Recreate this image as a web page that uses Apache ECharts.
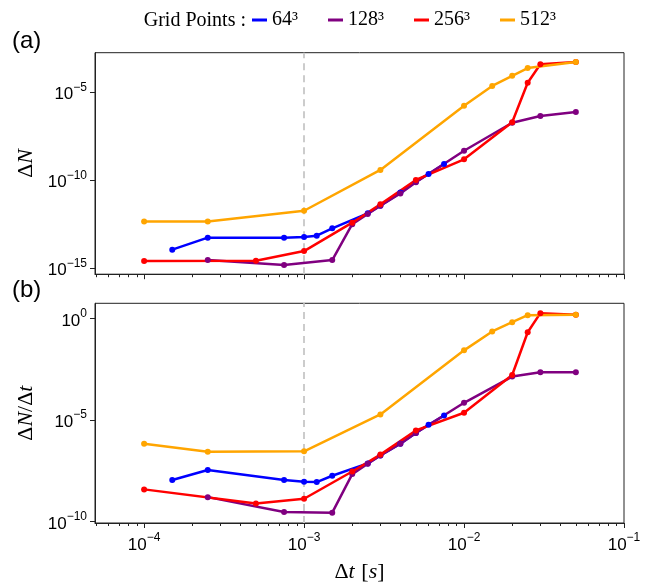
<!DOCTYPE html>
<html><head><meta charset="utf-8">
<script src="https://cdn.jsdelivr.net/npm/echarts@6/dist/echarts.min.js"></script>
<style>html,body{margin:0;padding:0;background:#fff}#c{width:658px;height:584px}</style>
</head><body><div id="c"></div>
<script>
// ---- data ----
const seriesNames = ['64³', '128³', '256³', '512³'];
const colors = ['#0000ff', '#800080', '#ff0000', '#ffa500'];

const dt64 = [1.5e-4, 2.5e-4, 7.5e-4, 1e-3, 1.2e-3, 1.5e-3, 2.5e-3, 3e-3, 4e-3, 5e-3, 6e-3, 7.5e-3];
const dN64 = [1.15e-14, 5.5e-14, 5.5e-14, 6.0e-14, 7.1e-14, 1.86e-13, 1.33e-12, 3.6e-12, 2.0e-11, 8.3e-11, 2.3e-10, 8.5e-10];
const rate64 = [1.12e-8, 3.5e-8, 1.12e-8, 9.3e-9, 8.9e-9, 1.82e-8, 7.4e-8, 1.82e-7, 6.9e-7, 2.3e-6, 5.9e-6, 1.66e-5];

const dt128 = [2.5e-4, 7.5e-4, 1.5e-3, 2e-3, 2.5e-3, 3e-3, 4e-3, 5e-3, 1e-2, 2e-2, 3e-2, 5e-2];
const dN128 = [2.95e-15, 1.55e-15, 2.95e-15, 3.2e-13, 1.23e-12, 3.6e-12, 1.8e-11, 7.8e-11, 4.8e-9, 1.86e-7, 4.5e-7, 7.6e-7];
const rate128 = [1.62e-9, 3.0e-10, 2.8e-10, 2.2e-8, 7.2e-8, 1.82e-7, 6.9e-7, 2.3e-6, 7.1e-5, 1.38e-3, 2.24e-3, 2.24e-3];

const dt256 = [1e-4, 5e-4, 1e-3, 2e-3, 3e-3, 5e-3, 1e-2, 2e-2, 2.5e-2, 3e-2, 5e-2];
const dN256 = [2.6e-15, 2.7e-15, 9.5e-15, 3.9e-13, 4.4e-12, 1.05e-10, 1.55e-9, 2.0e-7, 3.5e-5, 3.9e-4, 5.2e-4];
const rate256 = [3.9e-9, 7.8e-10, 1.35e-9, 2.95e-8, 2.0e-7, 3.1e-6, 2.3e-5, 1.66e-3, 0.21, 1.82, 1.51];

const dt512 = [1e-4, 2.5e-4, 1e-3, 3e-3, 1e-2, 1.5e-2, 2e-2, 2.5e-2, 5e-2];
const dN512 = [4.5e-13, 4.5e-13, 1.86e-12, 3.9e-10, 1.74e-6, 2.3e-5, 8.7e-5, 2.4e-4, 5.2e-4];
const rate512 = [6.9e-7, 2.75e-7, 2.9e-7, 1.9e-5, 0.027, 0.23, 0.66, 1.45, 1.51];

const xDecades = [1e-4, 1e-3, 1e-2, 1e-1];
const yTicksTop = [1e-15, 1e-10, 1e-5];
const yTicksBottom = [1e-10, 1e-5, 1e0];
const refLineDt = 1e-3;

// ---- build ----
const L = Math.log10;
const xMin = -4.307, xMax = -1;
const minorX = [];
for (let e = -5; e <= -2; e++) for (let k = 2; k <= 9; k++) {
  const v = L(k) + e;
  if (v > xMin && v < xMax) minorX.push(v);
}
const sans = 'Liberation Sans';
const serif = 'Liberation Serif';
const rich = {
  b: { fontSize: 17, fontFamily: sans, color: '#000', lineHeight: 22, verticalAlign: 'bottom' },
  s: { fontSize: 12, fontFamily: sans, color: '#000', lineHeight: 12, verticalAlign: 'top' }
};
function powLabel(v) {
  const e = Math.round(v);
  return '{b|10}{s|' + (e < 0 ? '\u2212' + (-e) : e) + '}';
}
const nameRich = {
  u: { fontFamily: serif, fontSize: 22, color: '#000' },
  i: { fontFamily: serif, fontSize: 22, fontStyle: 'italic', color: '#000' }
};

function majorX(gi, showLabels, name) {
  return {
    type: 'value', gridIndex: gi, min: xMin, max: xMax,
    axisLine: { show: true, onZero: false, lineStyle: { color: '#222', width: 1 } },
    axisTick: { show: true, length: 5, customValues: xDecades.map(L), lineStyle: { color: '#222' } },
    axisLabel: { show: showLabels, customValues: xDecades.map(L), formatter: powLabel, rich: rich, margin: 9 },
    splitLine: { show: false },
    name: name || '', nameLocation: 'middle', nameGap: 38,
    nameTextStyle: { rich: nameRich }
  };
}
function minorXAxis(gi) {
  return {
    type: 'value', gridIndex: gi, min: xMin, max: xMax, position: 'bottom',
    axisLine: { show: false, onZero: false },
    axisTick: { show: true, length: 3, customValues: minorX, lineStyle: { color: '#222' } },
    axisLabel: { show: false }, splitLine: { show: false }
  };
}
function yAx(gi, mn, mx, ticks, name, gap) {
  return {
    type: 'value', gridIndex: gi, min: mn, max: mx,
    axisLine: { show: true, onZero: false, lineStyle: { color: '#222', width: 1 } },
    axisTick: { show: true, length: 5, customValues: ticks.map(L), lineStyle: { color: '#222' } },
    axisLabel: { customValues: ticks.map(L), formatter: powLabel, rich: rich, margin: 8 },
    splitLine: { show: false },
    name: name, nameLocation: 'middle', nameRotate: 90, nameGap: gap,
    nameTextStyle: { rich: nameRich }
  };
}

const groups = [
  [dt64, dN64, rate64], [dt128, dN128, rate128], [dt256, dN256, rate256], [dt512, dN512, rate512]
];
const series = [];
[0, 1].forEach(panel => {
  // reference dashed line, drawn beneath the data
  series.push({
    type: 'line', name: 'ref' + panel, xAxisIndex: panel * 2, yAxisIndex: panel, data: [], z: 1,
    silent: true, animation: false,
    markLine: {
      silent: true, symbol: ['none', 'none'], label: { show: false }, z: 1,
      lineStyle: { color: '#cccccc', type: [7, 5], width: 2 },
      data: [{ xAxis: L(refLineDt) }], animation: false
    }
  });
  groups.forEach((g, i) => {
    const ys = panel === 0 ? g[1] : g[2];
    series.push({
      type: 'line', name: seriesNames[i], z: 3,
      xAxisIndex: panel * 2, yAxisIndex: panel,
      data: g[0].map((x, j) => [L(x), L(ys[j])]),
      symbol: 'circle', symbolSize: 6, showSymbol: true,
      lineStyle: { color: colors[i], width: 2.5 },
      itemStyle: { color: colors[i] },
      animation: false, silent: true
    });
  });
});

const chart = echarts.init(document.getElementById('c'), null, { renderer: 'canvas' });
chart.setOption({
  animation: false,
  backgroundColor: '#fff',
  grid: [
    { left: 95, right: 34, top: 52.7, height: 221.5, show: true, borderColor: '#222', borderWidth: 1, containLabel: false },
    { left: 95, right: 34, top: 303.3, height: 223, show: true, borderColor: '#222', borderWidth: 1, containLabel: false }
  ],
  xAxis: [
    majorX(0, false), minorXAxis(0),
    majorX(1, true, '{u|Δ}{i|t}  {u|[}{i|s}{u|]}'), minorXAxis(1)
  ],
  yAxis: [
    yAx(0, -15.335, -2.75, yTicksTop, '{u|Δ}{i|N}', 55),
    yAx(1, -10.063, 0.746, yTicksBottom, '{u|Δ}{i|N}{u|/Δ}{i|t}', 55)
  ],
  legend: {
    data: seriesNames, left: 252, top: 10, padding: 0, icon: 'rect', itemWidth: 15, itemHeight: 3, itemGap: 30,
    textStyle: { fontFamily: serif, fontSize: 20, color: '#000' }, selectedMode: false
  },
  graphic: [
    { type: 'text', x: 246, y: 21, style: { text: 'Grid Points :', fontFamily: serif, fontSize: 20, fill: '#000', align: 'right', verticalAlign: 'middle' } },
    { type: 'text', x: 12, y: 41, style: { text: '(a)', fontFamily: sans, fontSize: 24, fill: '#000', align: 'left', verticalAlign: 'middle' } },
    { type: 'text', x: 12, y: 290, style: { text: '(b)', fontFamily: sans, fontSize: 24, fill: '#000', align: 'left', verticalAlign: 'middle' } }
  ],
  series: series
});
</script></body></html>
